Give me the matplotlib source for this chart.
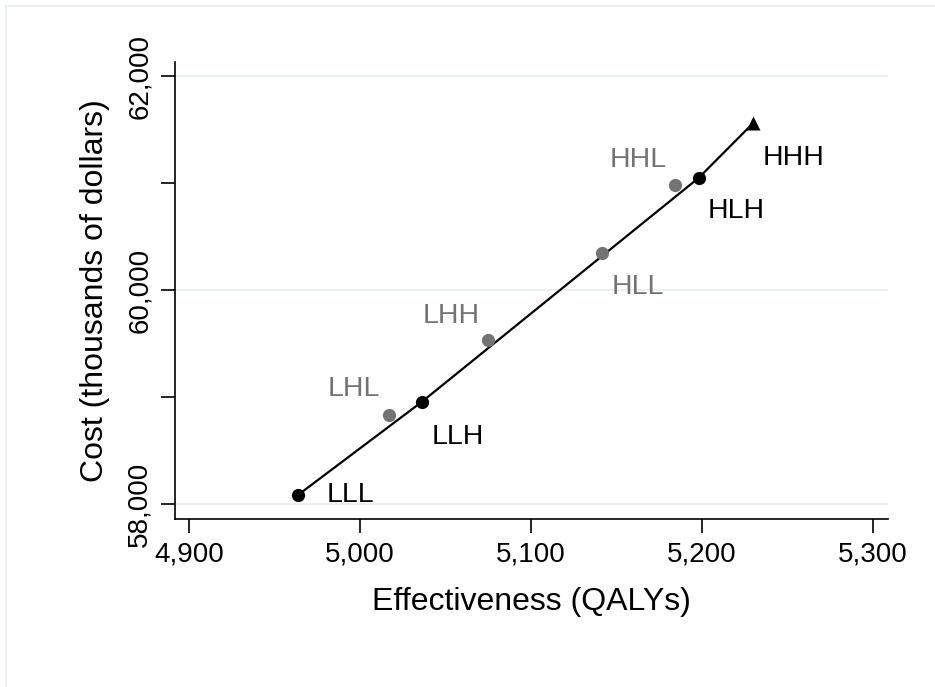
"""
Cost-effectiveness plane: strategies and efficiency frontier.
"""

import matplotlib
matplotlib.use("Agg")
import matplotlib.pyplot as plt
from matplotlib.ticker import FuncFormatter

plt.rcParams['font.family'] = ['Liberation Sans', 'DejaVu Sans']

# Strategies (effectiveness in QALYs, cost in thousands of dollars)
strategies = ['LLL', 'LHL', 'LLH', 'LHH', 'HLL', 'HHL', 'HLH', 'HHH']
effect = [4963.7, 5017, 5036, 5075, 5141.5, 5184, 5198, 5230]
cost = [58084, 58832, 58953, 59533, 60346, 60981, 61047, 61561]

# Strategies on the efficiency frontier
frontier = ['LLL', 'LLH', 'HLH', 'HHH']
dominated = ['LHL', 'LHH', 'HLL', 'HHL']

# Axis ticks
x_ticks = [4900, 5000, 5100, 5200, 5300]
y_major = [58000, 60000, 62000]
y_minor = [59000, 61000]

BLACK = '#000000'
GRAY = '#737373'
GRID = '#e6eff2'

pts = dict(zip(strategies, zip(effect, cost)))

fig = plt.figure(figsize=(9.35, 6.87), dpi=100)
ax = fig.add_axes([175 / 935, 1 - 519 / 687, (888 - 175) / 935, (519 - 62) / 687])

# Light frame around the figure
fig.patches.append(plt.Rectangle((6 / 935, -0.05), 1.1, 1 - 6 / 687 + 0.05,
                                 transform=fig.transFigure, fill=False,
                                 edgecolor=GRID, lw=1.2))

# Frontier line
fx = [pts[s][0] for s in frontier]
fy = [pts[s][1] for s in frontier]
ax.plot(fx, fy, color=BLACK, lw=1.6, zorder=2)

# Dominated strategies
ax.plot([pts[s][0] for s in dominated], [pts[s][1] for s in dominated],
        'o', color=GRAY, ms=9.5, mec='none', zorder=3)

# Frontier strategies
ax.plot(fx[:-1], fy[:-1], 'o', color=BLACK, ms=9.5, mec='none', zorder=4)
ax.plot(fx[-1:], fy[-1:], '^', color=BLACK, ms=10, mec='none', zorder=4)

# Labels (offsets in points)
label_offsets = {
    'LLL': (21, 0), 'LHL': (-44, 19), 'LLH': (7, -25), 'LHH': (-47, 17),
    'HLL': (7, -24.5), 'HHL': (-47, 18), 'HLH': (6.5, -24), 'HHH': (6.5, -25),
}
for s in strategies:
    col = BLACK if s in frontier else GRAY
    ax.annotate(s, pts[s], xytext=label_offsets[s], textcoords='offset points',
                ha='left', va='center', fontsize=20.5, color=col)

ax.set_xlim(4891.8, 5308.8)
ax.set_ylim(57860, 62131)

ax.set_xticks(x_ticks)
ax.set_yticks(y_major)
ax.set_yticks(y_minor, minor=True)
fmt = FuncFormatter(lambda v, p: f'{v:,.0f}')
ax.xaxis.set_major_formatter(fmt)
ax.yaxis.set_major_formatter(fmt)
ax.tick_params(axis='both', which='both', length=10, width=1.2,
               direction='out', labelsize=20, pad=6)
ax.tick_params(axis='y', which='major', labelrotation=90)
for lab in ax.get_yticklabels():
    lab.set_va('center')

for y in y_major:
    ax.axhline(y, color=GRID, lw=1.3, zorder=0)

for side in ['top', 'right']:
    ax.spines[side].set_visible(False)
for side in ['left', 'bottom']:
    ax.spines[side].set_linewidth(1.2)

ax.set_xlabel('Effectiveness (QALYs)', fontsize=23, labelpad=14)
ax.set_ylabel('Cost (thousands of dollars)', fontsize=23, labelpad=12)

fig.savefig('out.png', dpi=100)
